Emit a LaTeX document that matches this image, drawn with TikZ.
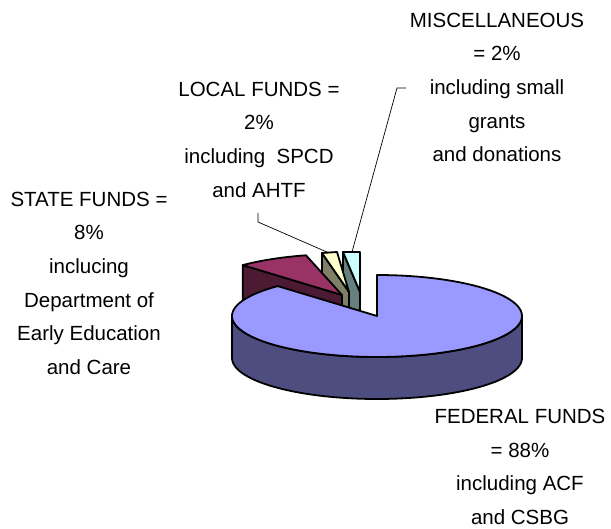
\documentclass[tikz,border=0pt]{standalone}
\usepackage{fontspec}
\setmainfont{Liberation Sans}
\usetikzlibrary{calc}
\definecolor{fedtop}{HTML}{9999FF}
\definecolor{fedside}{HTML}{4D4D80}
\definecolor{sttop}{HTML}{993366}
\definecolor{stside}{HTML}{4D1A33}
\definecolor{loctop}{HTML}{FFFFCC}
\definecolor{locside}{HTML}{808066}
\definecolor{mistop}{HTML}{CCFFFF}
\definecolor{misside}{HTML}{668080}
\begin{document}
\begin{tikzpicture}[x=1pt,y=-1pt,
  edge/.style={draw=black,line width=1.8pt,line join=round},
  leader/.style={draw=black,line width=0.7pt},
  lbl/.style={font=\fontsize{20.5}{33.6}\selectfont,align=center,inner sep=0pt,anchor=north,text=black}]
\useasboundingbox[fill=white] (0,0) rectangle (611,529);

% ---- exploded small slices (back) ----
% miscellaneous (2%)
\coordinate (m0) at (360,292);
\coordinate (m1) at (343,252);
\coordinate (m2) at (360,252);
\path[edge,fill=misside] (m0) -- (m1) -- ($(m1)+(0,42)$) -- ($(m0)+(0,42)$) -- cycle;
\path[edge,fill=mistop] (m0) -- (m1) -- (m2) -- cycle;

% local funds (2%)
\coordinate (l0) at (349,292);
\coordinate (l1) at (322,253);
\coordinate (l2) at (337,252);
\path[edge,fill=locside] (l0) -- (l1) -- ($(l1)+(0,42)$) -- ($(l0)+(0,42)$) -- cycle;
\path[edge,fill=loctop] (l0) -- (l1) -- (l2) -- cycle;

% state funds (8%)
\coordinate (s0) at (342,295);
\coordinate (s1) at (242.7,265.1);
\path[edge,fill=stside] (s0) -- (s1) -- ($(s1)+(0,42)$) -- ($(s0)+(0,42)$) -- cycle;
\path[edge,fill=sttop] (s0) -- plot[domain=104.4:133.2,samples=12,variable=\t] ({342+145*cos(\t)},{295-41*sin(\t)}) -- cycle;

% ---- federal funds (88%) ----
\coordinate (f0) at (377,316);
\path[edge,fill=fedside] plot[domain=0:-180,samples=60,variable=\t] ({377+145*cos(\t)},{316-41*sin(\t)})
   -- plot[domain=-180:0,samples=60,variable=\t] ({377+145*cos(\t)},{358-41*sin(\t)}) -- cycle;
\path[edge,fill=fedtop] (f0) -- plot[domain=90:-226.8,samples=100,variable=\t] ({377+145*cos(\t)},{316-41*sin(\t)}) -- cycle;

% ---- labels ----
\node[lbl] (misc) at (497,12.7) {MISCELLANEOUS\\= 2\%\\including small\\grants\\and donations};
\node[lbl] (local) at (259,81.7) {LOCAL FUNDS =\\2\%\\including~~SPCD\\and AHTF};
\node[lbl] (state) at (89,191.7) {STATE FUNDS =\\8\%\\inclucing\\Department of\\Early Education\\and Care};
\node[lbl] (federal) at (520,409) {FEDERAL FUNDS\\= 88\%\\including ACF\\and CSBG};

% ---- leader lines ----
\coordinate (lt) at (258,213);
\coordinate (lk) at (258,222);
\coordinate (le) at (328,252.5);
\draw[leader] (lt) -- (lk) -- (le);
\coordinate (mt) at (406,88);
\coordinate (mk) at (397,88);
\coordinate (me) at (352,252);
\draw[leader] (mt) -- (mk) -- (me);
\end{tikzpicture}
\end{document}
